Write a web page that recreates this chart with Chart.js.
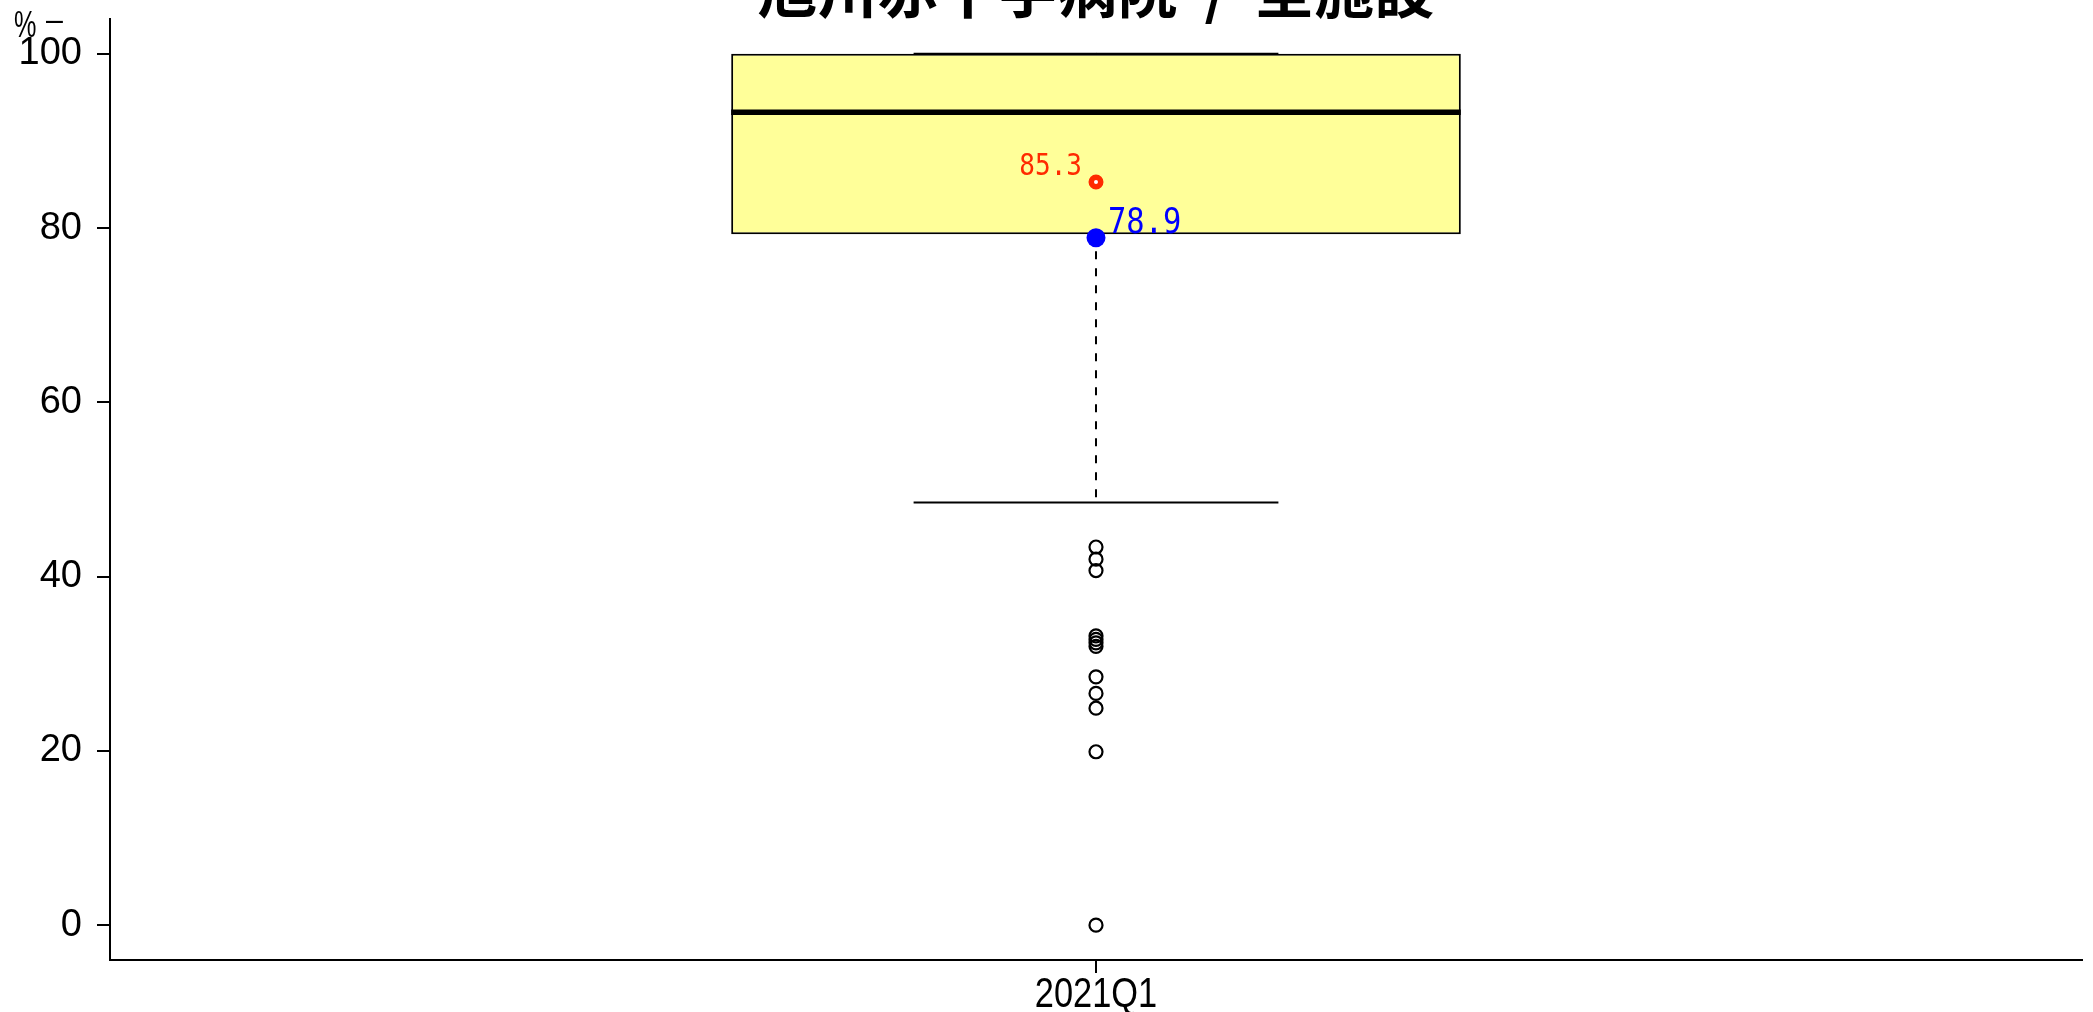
<!DOCTYPE html>
<html>
<head>
<meta charset="utf-8">
<title>旭川赤十字病院 / 全施設</title>
<script src="https://cdn.jsdelivr.net/npm/chart.js@4.4.1/dist/chart.umd.min.js"></script>
<style>
  html, body { margin: 0; padding: 0; background: #fff; }
</style>
</head>
<body>
<canvas id="chart" width="2093" height="1012"></canvas>
<script>
const categories = ['2021Q1']
const yTicks = [0, 20, 40, 60, 80, 100]

// box statistics per quarter
const whiskerLow = [48.5]
const q1 = [79.3]
const median = [93.3]
const q3 = [100]
const whiskerHigh = [100]
const outliers = [43.4, 42.0, 40.7, 33.2, 32.8, 32.4, 32.0, 28.5, 26.6, 24.9, 19.9, 0]

const allMean = [85.3]   // red: all facilities
const hospital = [78.9]  // blue: this hospital

const titleText = '旭川赤十字病院 / 全施設'

// draw text squeezed horizontally
function narrowText(ctx, text, x, y, font, color, sx, align) {
  ctx.save()
  ctx.font = font
  ctx.fillStyle = color
  ctx.textAlign = align
  ctx.textBaseline = 'alphabetic'
  ctx.translate(x, y)
  ctx.scale(sx, 1)
  ctx.fillText(text, 0, 0)
  ctx.restore()
}

const boxExtras = {
  id: 'boxExtras',
  afterDatasetDraw(chart, args) {
    if (args.index !== 0) return
    const ctx = chart.ctx
    const y = chart.scales.y
    const seg = (x1, y1, x2, y2) => {
      ctx.beginPath()
      ctx.moveTo(x1, y1)
      ctx.lineTo(x2, y2)
      ctx.stroke()
    }
    args.meta.data.forEach((bar, i) => {
      const half = bar.width / 2
      const cap = bar.width / 4
      ctx.save()
      ctx.strokeStyle = '#000'
      // whiskers
      ctx.lineWidth = 2
      ctx.setLineDash([8, 9])
      seg(bar.x, y.getPixelForValue(q1[i]), bar.x, y.getPixelForValue(whiskerLow[i]))
      seg(bar.x, y.getPixelForValue(q3[i]), bar.x, y.getPixelForValue(whiskerHigh[i]))
      ctx.setLineDash([])
      seg(bar.x - cap, y.getPixelForValue(whiskerLow[i]), bar.x + cap, y.getPixelForValue(whiskerLow[i]))
      seg(bar.x - cap, y.getPixelForValue(whiskerHigh[i]), bar.x + cap, y.getPixelForValue(whiskerHigh[i]))
      // median
      ctx.lineWidth = 5.5
      seg(bar.x - half, y.getPixelForValue(median[i]), bar.x + half, y.getPixelForValue(median[i]))
      ctx.restore()
    })
  }
}

const labelsAndTitle = {
  id: 'labelsAndTitle',
  afterDatasetsDraw(chart) {
    const ctx = chart.ctx
    const red = chart.getDatasetMeta(2).data
    const blue = chart.getDatasetMeta(3).data
    red.forEach((pt, i) => {
      narrowText(ctx, allMean[i].toFixed(1), pt.x - 14, pt.y - 7,
        '31px "DejaVu Sans Mono"', '#ff2a00', 0.84, 'right')
    })
    blue.forEach((pt, i) => {
      narrowText(ctx, hospital[i].toFixed(1), pt.x + 12, pt.y - 5,
        '35px "DejaVu Sans Mono"', '#0000ff', 0.87, 'left')
    })

    // category labels, a bit narrower than the stock font
    const xs = chart.scales.x
    categories.forEach((c, i) => {
      narrowText(ctx, c, xs.getPixelForValue(i), xs.top + 47,
        '43px "Liberation Sans"', '#000', 0.8, 'center')
    })

    const area = chart.chartArea
    ctx.save()
    ctx.font = 'bold 60px "Noto Sans CJK JP"'
    ctx.wordSpacing = '13px'
    ctx.fillStyle = '#000'
    ctx.textAlign = 'center'
    ctx.textBaseline = 'alphabetic'
    ctx.fillText(titleText, (area.left + area.right) / 2, 13)
    ctx.restore()

    // unit mark above the y axis
    narrowText(ctx, '%', 14, 37, '36px "Liberation Sans"', '#000', 0.7, 'left')
    narrowText(ctx, '–', 46, 30, '32px "Liberation Sans"', '#000', 0.95, 'left')
  }
}

const pointsAt = vals => vals.map(v => ({ x: categories[0], y: v }))

new Chart(document.getElementById('chart'), {
  type: 'bar',
  data: {
    labels: categories,
    datasets: [
      {
        label: 'box',
        data: q1.map((v, i) => [v, q3[i]]),
        backgroundColor: '#ffff99',
        borderColor: '#000',
        borderWidth: 2,
        borderSkipped: false,
        categoryPercentage: 1,
        barPercentage: 0.37,
        order: 3
      },
      {
        type: 'line',
        label: 'outliers',
        data: pointsAt(outliers),
        showLine: false,
        pointRadius: 6.5,
        pointBorderWidth: 2.2,
        pointBorderColor: '#000',
        pointBackgroundColor: 'rgba(0,0,0,0)',
        order: 2
      },
      {
        type: 'line',
        label: 'all',
        data: pointsAt(allMean),
        showLine: false,
        pointRadius: 4.75,
        pointBorderWidth: 5.5,
        pointBorderColor: '#ff2a00',
        pointBackgroundColor: '#fff',
        order: 1
      },
      {
        type: 'line',
        label: 'hospital',
        data: pointsAt(hospital),
        showLine: false,
        pointRadius: 9.5,
        pointBorderWidth: 0,
        pointBackgroundColor: '#0000ff',
        order: 0
      }
    ]
  },
  options: {
    responsive: false,
    animation: false,
    events: [],
    layout: {
      padding: { top: 19, right: 11, left: 0, bottom: 0 }
    },
    plugins: {
      legend: { display: false },
      tooltip: { enabled: false },
      title: { display: false }
    },
    scales: {
      x: {
        afterFit: s => {
          s.height = 52
          s.paddingLeft = 0
          s.paddingRight = 0
        },
        grid: {
          offset: false,
          drawOnChartArea: false,
          tickLength: 13,
          color: '#000',
          lineWidth: 2
        },
        border: { color: '#000', width: 2 },
        ticks: { display: false }
      },
      y: {
        min: -4,
        max: 104,
        afterFit: s => {
          s.width = 110
          s.paddingTop = 0
          s.paddingBottom = 0
        },
        afterBuildTicks: s => { s.ticks = yTicks.map(v => ({ value: v })) },
        grid: {
          drawOnChartArea: false,
          tickLength: 13,
          color: '#000',
          lineWidth: 2
        },
        border: { color: '#000', width: 2 },
        ticks: {
          color: '#000',
          padding: 15,
          font: { family: '"Liberation Sans"', size: 38 }
        }
      }
    }
  },
  plugins: [boxExtras, labelsAndTitle]
})
</script>
</body>
</html>
